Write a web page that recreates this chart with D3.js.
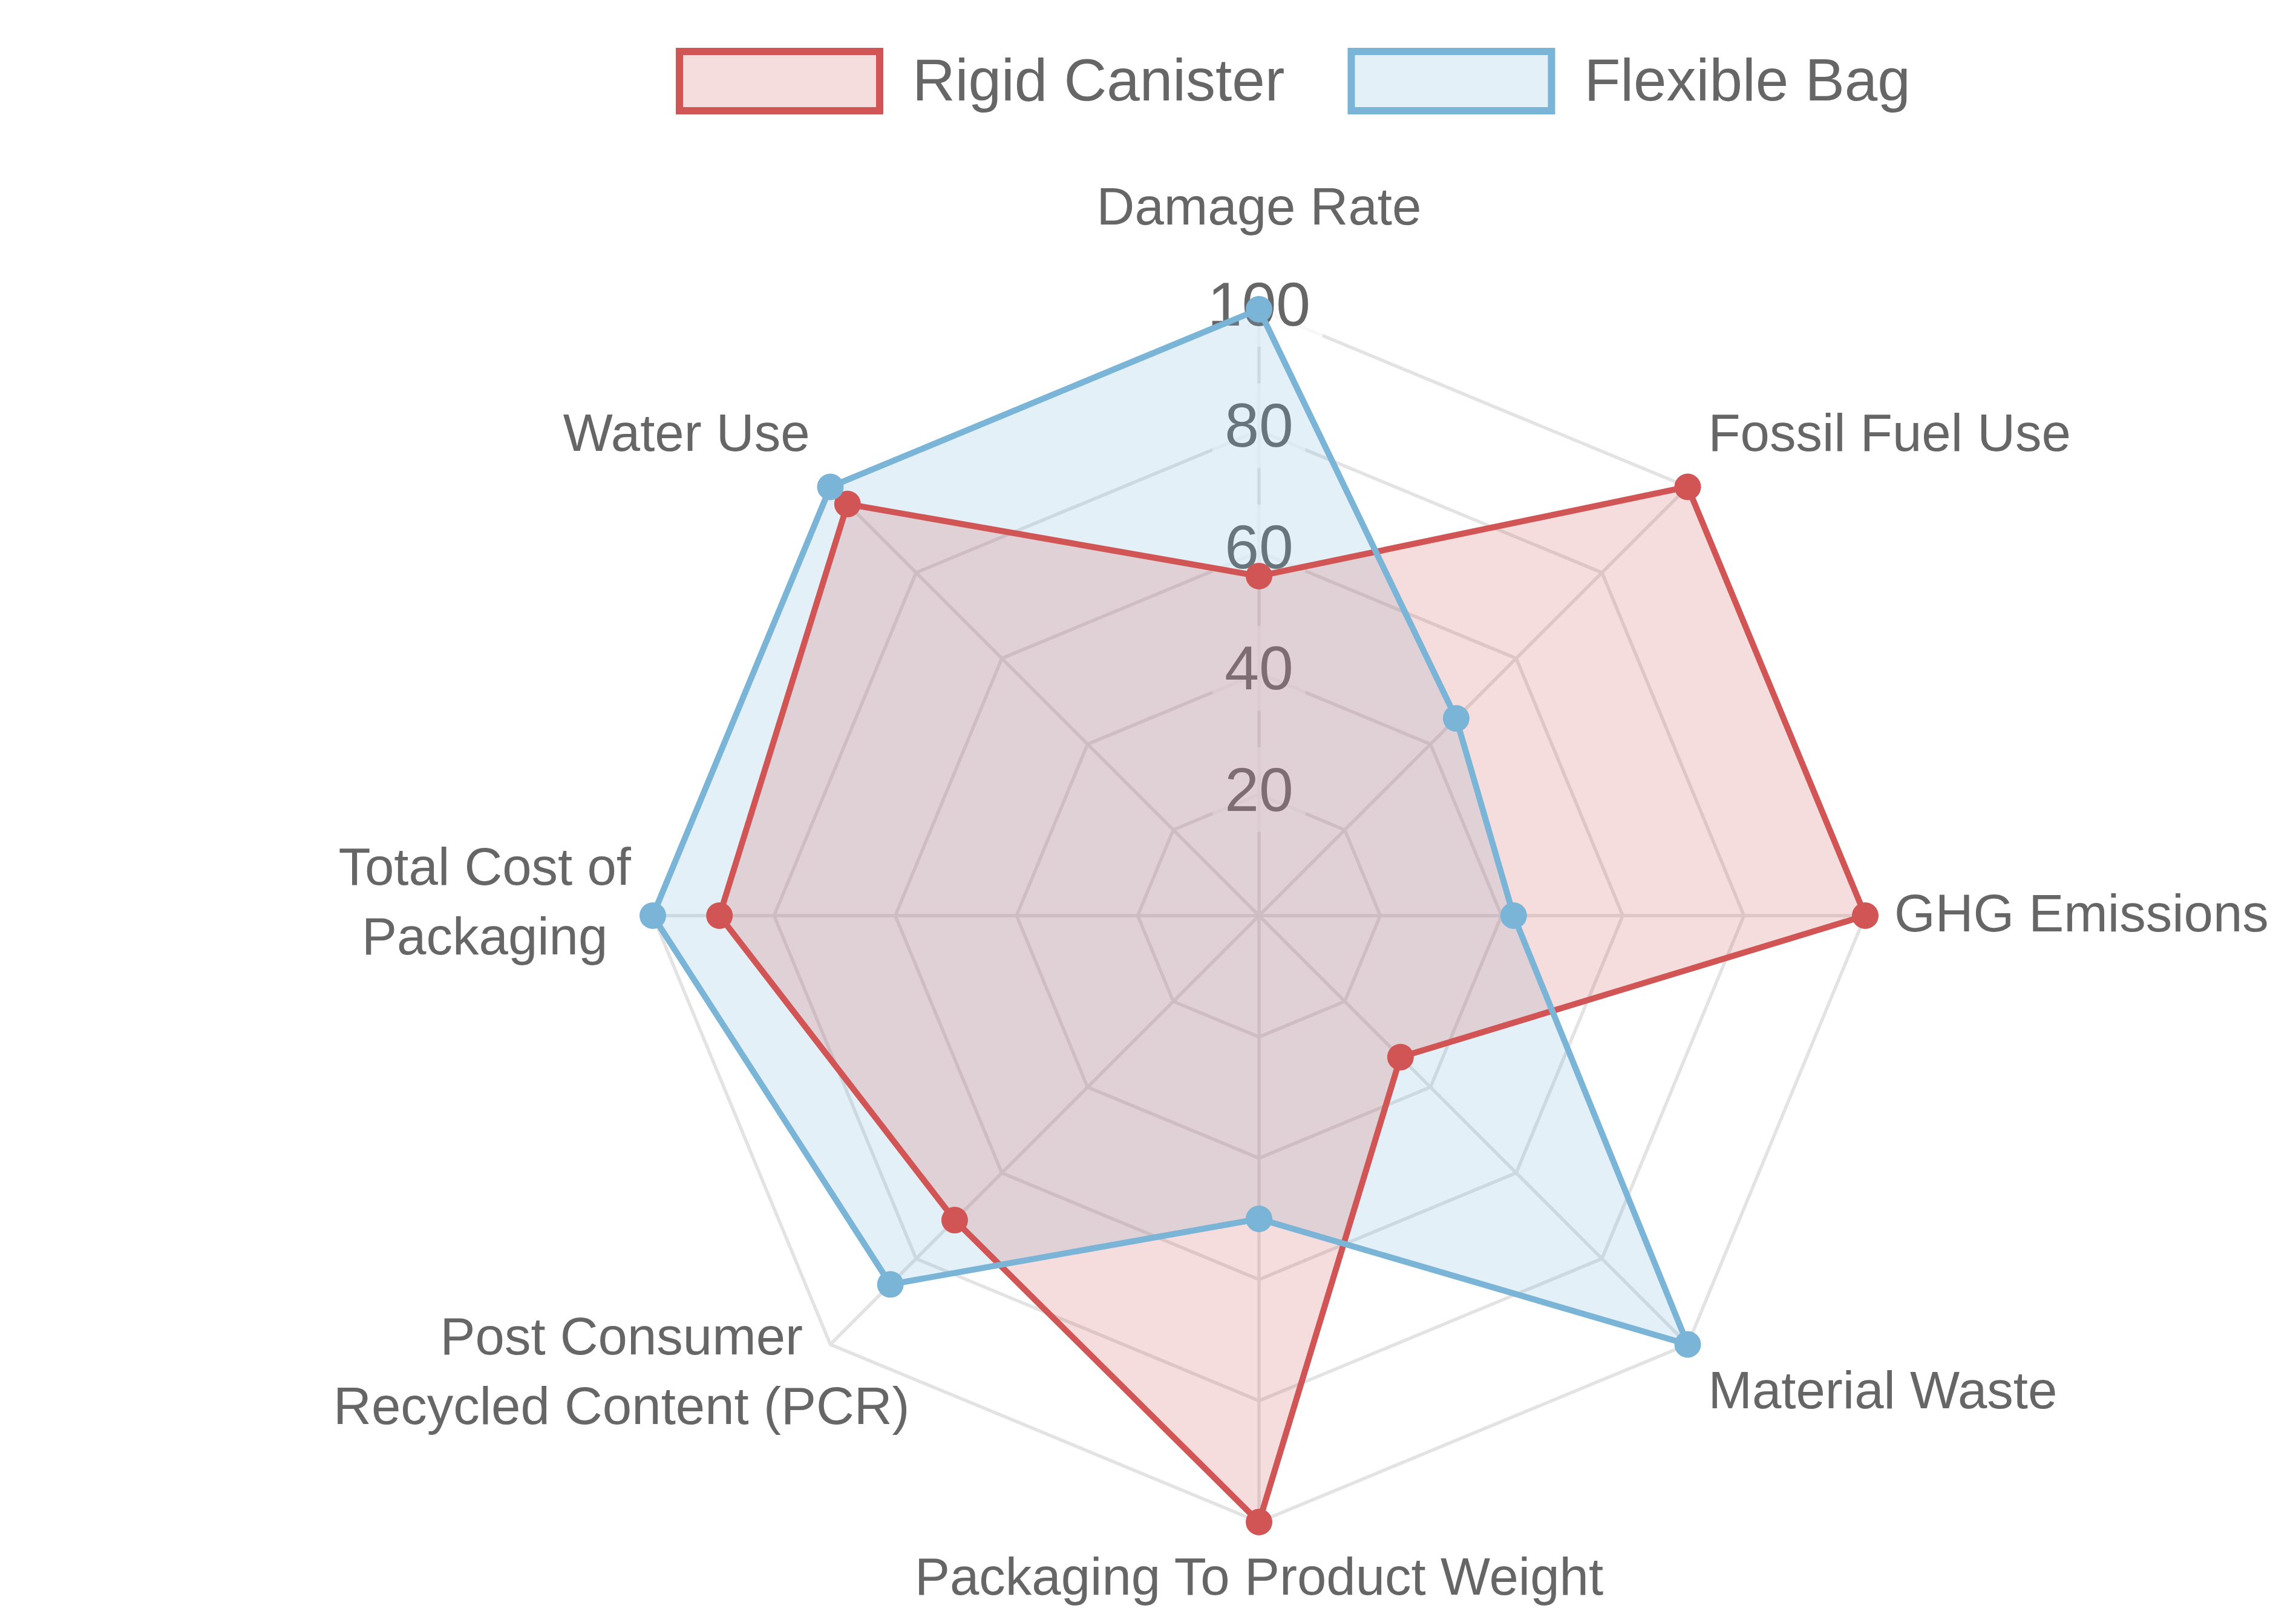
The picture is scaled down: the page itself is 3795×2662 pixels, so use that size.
<!DOCTYPE html>
<html>
<head>
<meta charset="utf-8">
<script src="https://cdnjs.cloudflare.com/ajax/libs/d3/7.8.5/d3.min.js"></script>
<style>
  body { margin: 0; background: #fff; }
  text { font-family: "Liberation Sans", Arial, sans-serif; }
</style>
</head>
<body>
<div id="chart"></div>
<script>
// Data
const axisLabels = [
  ["Damage Rate"],
  ["Fossil Fuel Use"],
  ["GHG Emissions"],
  ["Material Waste"],
  ["Packaging To Product Weight"],
  ["Post Consumer", "Recycled Content (PCR)"],
  ["Total Cost of", "Packaging"],
  ["Water Use"]
];
const seriesNames = ["Rigid Canister", "Flexible Bag"];
const rigidValues = [56, 100, 100, 33, 100, 71, 89, 96];
const flexibleValues = [100, 46, 42, 100, 50, 86, 100, 100];
const tickValues = [20, 40, 60, 80, 100];

// Layout
const W = 3795, H = 2662;
const cx = 2081, cy = 1513, R = 1002;
const labelPad = 48, labelFont = 87, lineH = 115;
const colors = [
  { stroke: "rgb(210,85,85)", fill: "rgba(210,85,85,0.2)" },
  { stroke: "rgb(122,180,214)", fill: "rgba(122,180,214,0.2)" }
];
// small corrections so the labels sit where the original put them
const labelNudge = { 0: [0, -67], 5: [165, -89], 6: [12, -19] };

let svg = d3.select("#chart").append("svg")
  .attr("width", W).attr("height", H);

let g = svg.append("g").attr("transform", "translate(" + cx + "," + cy + ")");

let r = d3.scaleLinear().domain([0, 100]).range([0, R]);
let n = axisLabels.length;
let angle = d3.scaleLinear().domain([0, n]).range([0, 2 * Math.PI]);

function pos(i, rad) {
  let a = angle(i);
  return [rad * Math.sin(a), -rad * Math.cos(a)];
}

// grid rings
let ring = d3.lineRadial().angle((d, i) => angle(i)).radius(d => r(d)).curve(d3.curveLinearClosed);
tickValues.forEach(function (t) {
  g.append("path")
    .attr("d", ring(d3.range(n).map(() => t)))
    .attr("fill", "none")
    .attr("stroke", "#e3e3e3")
    .attr("stroke-width", 5.5);
});

// angle lines
d3.range(n).forEach(function (i) {
  let p = pos(i, r(100));
  g.append("line")
    .attr("x1", 0).attr("y1", 0)
    .attr("x2", p[0]).attr("y2", p[1])
    .attr("stroke", "#e3e3e3")
    .attr("stroke-width", 5.5);
});

// tick labels with backdrop
tickValues.forEach(function (t) {
  let tg = g.append("g").attr("transform", "translate(0," + (-r(t) - 8) + ")");
  let bg = tg.append("rect").attr("fill", "rgba(255,255,255,0.75)");
  let txt = tg.append("text")
    .attr("text-anchor", "middle")
    .attr("dominant-baseline", "central")
    .attr("font-size", 102)
    .attr("fill", "#666")
    .text(t);
  let w = txt.node().getComputedTextLength();
  bg.attr("x", -w / 2 - 20).attr("y", -70).attr("width", w + 40).attr("height", 140);
});

// point labels
axisLabels.forEach(function (lines, i) {
  let deg = Math.round(angle(i) * 180 / Math.PI);
  let p = pos(i, r(100) + labelPad);
  let nudge = labelNudge[i] || [0, 0];
  let m = lines.length;
  let first;
  if (deg === 90 || deg === 270) first = p[1] - 5 - (m - 1) * lineH / 2;
  else if (deg < 90 || deg > 270) first = p[1] - 56 - (m - 1) * lineH;
  else first = p[1] + 41;
  let lg = g.append("g");
  let texts = lines.map(function (s, k) {
    return lg.append("text")
      .attr("dominant-baseline", "central")
      .attr("font-size", labelFont)
      .attr("fill", "#666")
      .attr("y", first + nudge[1] + k * lineH)
      .text(s);
  });
  let maxW = d3.max(texts, t => t.node().getComputedTextLength());
  let xc;
  if (deg === 0 || deg === 180) xc = p[0];
  else if (deg < 180) xc = p[0] + maxW / 2;
  else xc = p[0] - maxW / 2;
  texts.forEach(t => t.attr("x", xc + nudge[0]).attr("text-anchor", "middle"));
});

// series
let series = [rigidValues, flexibleValues];
let shape = d3.lineRadial().angle((d, i) => angle(i)).radius(d => r(d)).curve(d3.curveLinearClosed);

// fills: flexible under rigid
[1, 0].forEach(function (s) {
  g.append("path")
    .attr("d", shape(series[s]))
    .attr("fill", colors[s].fill)
    .attr("stroke", "none");
});

// lines and points
[0, 1].forEach(function (s) {
  g.append("path")
    .attr("d", shape(series[s]))
    .attr("fill", "none")
    .attr("stroke", colors[s].stroke)
    .attr("stroke-width", 10)
    .attr("stroke-linejoin", "round");
  g.selectAll(".pt" + s)
    .data(series[s])
    .enter()
    .append("circle")
    .attr("cx", (d, i) => pos(i, r(d))[0])
    .attr("cy", (d, i) => pos(i, r(d))[1])
    .attr("r", 22)
    .attr("fill", colors[s].stroke);
});

// legend
let lx = 1123;
seriesNames.forEach(function (name, s) {
  svg.append("rect")
    .attr("x", lx).attr("y", 85)
    .attr("width", 331).attr("height", 98)
    .attr("fill", colors[s].fill)
    .attr("stroke", colors[s].stroke)
    .attr("stroke-width", 12);
  let t = svg.append("text")
    .attr("x", lx + 385).attr("y", 132)
    .attr("dominant-baseline", "central")
    .attr("font-size", 98)
    .attr("fill", "#666")
    .text(name);
  lx = lx + 385 + t.node().getComputedTextLength() + 110;
});
</script>
</body>
</html>
